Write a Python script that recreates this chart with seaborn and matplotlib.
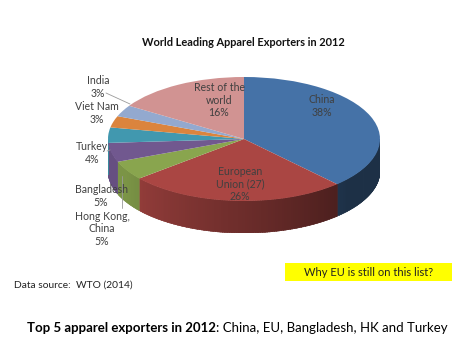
import numpy as np
import matplotlib
matplotlib.use("Agg")
import matplotlib.pyplot as plt
import matplotlib.colors as mcolors
import seaborn as sns

sns.set_theme(style="white")
plt.rcParams['font.family'] = ['Lato', 'DejaVu Sans']

# ---- data ----
countries = ["China", "European\nUnion (27)", "Hong Kong,\nChina", "Bangladesh",
             "Turkey", "Viet Nam", "India", "Rest of the\nworld"]
shares = [38, 26, 5, 5, 4, 3, 3, 16]
colors = ["#4572A7", "#AA4643", "#89A54E", "#71588F",
          "#4198AF", "#DB843D", "#93A9CF", "#D19392"]
title = "World Leading Apparel Exporters in 2012"
source = "Data source:  WTO (2014)"
question = "Why EU is still on this list?"
footer_bold = "Top 5 apparel exporters in 2012"
footer_rest = ": China, EU, Bangladesh, HK and Turkey"

W, H = 472, 353
fig = plt.figure(figsize=(W / 100, H / 100), dpi=100)
fig.patch.set_facecolor("white")

# pie geometry (pixels)
cx, cy, rx, ry, depth_px = 244, 139, 136, 62, 32
depth = depth_px / ry
top_px = cy - ry
bot_px = cy + ry + depth_px
pax = fig.add_axes([(cx - rx) / W, (H - bot_px) / H, 2 * rx / W, (bot_px - top_px) / H])
pax.set_zorder(0)
pax.patch.set_alpha(0)

wedges, _ = pax.pie(shares, colors=colors, startangle=90, counterclock=False,
                    radius=1, center=(0, 0), wedgeprops=dict(linewidth=0))
for w in wedges:
    w.set_zorder(3)
pax.set_aspect("auto")
pax.set_xlim(-1, 1)
pax.set_ylim(-1 - depth, 1)
pax.axis("off")

# side walls of the visible (front) half
bounds = 90 - 360 * np.concatenate([[0], np.cumsum(shares)]) / np.sum(shares)
for i, col in enumerate(colors):
    a_hi, a_lo = bounds[i], bounds[i + 1]
    lo, hi = max(a_lo, -180), min(a_hi, 0)
    if lo >= hi:
        continue
    steps = np.append(np.arange(lo, hi, 1.0), hi)
    base = np.array(mcolors.to_rgb(col))
    for t0, t1 in zip(steps[:-1], steps[1:]):
        tm = 0.5 * (t0 + t1)
        f = 0.42 + 0.48 * np.clip((-tm - 40) / 110, 0, 1)
        ts = np.radians(np.linspace(t0, min(t1 + 0.6, hi), 4))
        xs = np.concatenate([np.cos(ts), np.cos(ts[::-1])])
        ys = np.concatenate([np.sin(ts), np.sin(ts[::-1]) - depth])
        pax.fill(xs, ys, facecolor=base * f, edgecolor=base * f, lw=0.4, zorder=1)

# background/text axes in pixel coordinates (on top)
bg = fig.add_axes([0, 0, 1, 1])
bg.set_zorder(2)
bg.patch.set_alpha(0)
bg.set_xlim(0, W)
bg.set_ylim(H, 0)
bg.axis("off")

# ---- texts ----
lab_kw = dict(fontsize=7.6, color="#404040", ha="center", va="center", linespacing=1.2)
bg.text(243, 43, title, fontsize=7.9, fontweight="bold", ha="center", va="center", color="#111111")
bg.text(322, 106, f"{countries[0]}\n{shares[0]}%", **lab_kw)
bg.text(240, 184, f"{countries[1]}\n{shares[1]}%", **lab_kw)
bg.text(219, 100, f"{countries[7]}\n{shares[7]}%", **lab_kw)
bg.text(102, 229, f"{countries[2]}\n{shares[2]}%", **lab_kw)
bg.text(101, 196, f"{countries[3]}\n{shares[3]}%", **lab_kw)
bg.text(92, 153, f"{countries[4]}\n{shares[4]}%", **lab_kw)
bg.text(97, 113, f"{countries[5]}\n{shares[5]}%", **lab_kw)
bg.text(98, 87, f"{countries[6]}\n{shares[6]}%", **lab_kw)

lc = dict(color="#9a9a9a", lw=0.6)
bg.plot([106, 130], [93, 104], **lc)
bg.plot([107, 110], [151, 150], **lc)
bg.plot([122, 122], [176, 208], **lc)

bg.add_patch(plt.Rectangle((285, 263), 167, 18, color="#FFFF00", lw=0))
bg.text(369, 272, question, fontsize=8.0, ha="center", va="center", color="#222222")
bg.text(14, 285, source, fontsize=7.4, ha="left", va="center", color="#222222")

t1 = bg.text(27, 328, footer_bold, fontsize=9.5, fontweight="bold", ha="left", va="center", color="#000000")
bg.annotate(footer_rest, xy=(1, 0), xycoords=t1, ha="left", va="bottom", fontsize=9.5, color="#000000")

fig.savefig("out.png", dpi=100, facecolor="white")
